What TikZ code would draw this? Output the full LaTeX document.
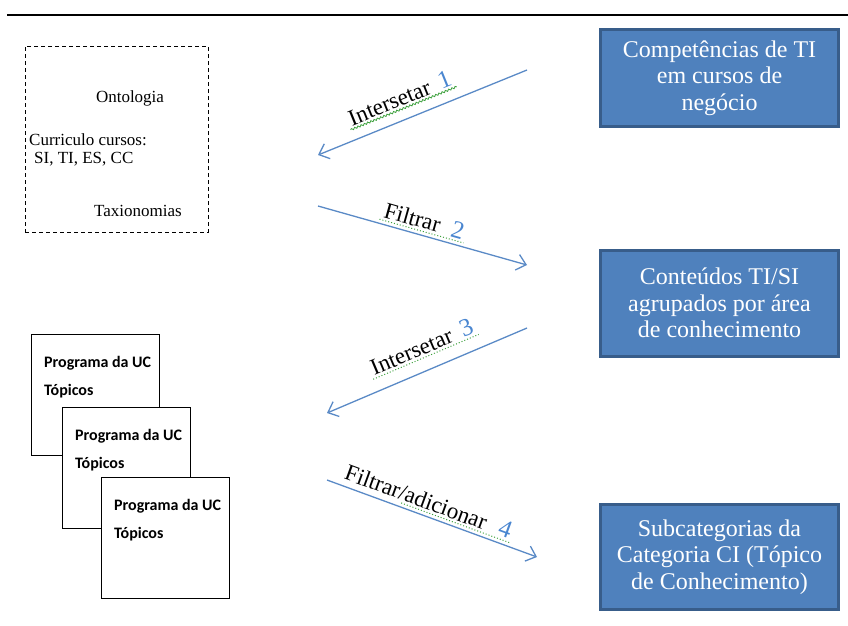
\documentclass[tikz,border=0pt]{standalone}
\usepackage{fontspec}
\setmainfont{Liberation Serif}
\newfontfamily\calfont{Carlito}
\usepackage{tikz}
\usetikzlibrary{arrows.meta,calc,decorations.pathmorphing}
\definecolor{boxfill}{HTML}{4F81BD}
\definecolor{boxline}{HTML}{385D8A}
\definecolor{arrowcol}{HTML}{5A8AC6}
\definecolor{num}{HTML}{4A86D0}
\definecolor{squig}{HTML}{3CA03C}
\newcommand{\stepno}[1]{\textcolor{num}{\fontsize{25}{26}\selectfont #1}}

\begin{document}
\begin{tikzpicture}[x=1pt,y=-1pt]
\tikzstyle{topic}=[draw=boxline,line width=3pt,fill=boxfill,text=white,align=center,minimum width=238pt,font=\fontsize{24}{26.5}\selectfont]
\tikzstyle{page}=[draw,line width=1.3pt,fill=white,minimum width=128pt,minimum height=121pt,anchor=north west,inner sep=0pt]
\tikzstyle{ptxt}=[anchor=north west,inner sep=0pt,align=left,font=\calfont\bfseries\fontsize{16}{28}\selectfont]
\tikzstyle{src}=[font=\fontsize{17}{18}\selectfont,inner sep=0pt]
\tikzstyle{flow}=[draw=arrowcol,line width=1.3pt,-{Straight Barb[length=9pt,width=16pt]}]
\tikzstyle{lab}=[sloped,inner sep=2pt,font=\fontsize{23}{24}\selectfont]
\tikzstyle{wavy}=[squig,line width=0.8pt,decorate,decoration={snake,amplitude=0.9pt,segment length=3.5pt}]
\tikzstyle{dotty}=[squig,line width=1pt,dash pattern=on 1pt off 2pt]
\useasboundingbox (0,0) rectangle (848,625);
\draw[line width=2.5pt] (7,15) -- (848,15);

% sources
\node[draw,dash pattern=on 4pt off 3pt,line width=1pt,minimum width=183pt,minimum height=186pt,inner sep=0pt] (src) at (116.5,139) {};
\node[src] (onto) at (130,98) {Ontologia};
\node[src,anchor=west] (curr) at (29,140) {Curriculo cursos:};
\node[src,anchor=west] (curs) at (34,159) {SI, TI, ES, CC};
\node[src] (taxo) at (138,211) {Taxionomias};

% pages
\foreach \i/\x/\y in {1/31/334,2/62/407,3/101/477}{
  \node[page] (uc\i) at (\x,\y) {};
  \node[ptxt] (uct\i) at ([shift={(13pt,-22pt)}]uc\i.north west) {Programa da UC\\Tópicos};
}

% topic boxes
\node[topic,minimum height=97pt] (comp) at (719.5,78) {Competências de TI\\em cursos de\\negócio};
\node[topic,minimum height=106pt] (cont) at (719.5,303) {Conteúdos TI/SI\\agrupados por área\\de conhecimento};
\node[topic,minimum height=105pt] (subc) at (719.5,557) {Subcategorias da\\Categoria CI (Tópico\\de Conhecimento)};

% steps
\coordinate (a1s) at (527,70);  \coordinate (a1e) at (318,155);
\coordinate (a2s) at (318,206); \coordinate (a2e) at (527,265);
\coordinate (a3s) at (527,328); \coordinate (a3e) at (327,413);
\coordinate (a4s) at (327,480); \coordinate (a4e) at (537,557);
\draw[flow] (a1s) -- node[lab,above=11pt,pos=0.57] (l1) {Intersetar\hspace{10pt}\stepno{1}} (a1e);
\draw[flow] (a2s) -- node[lab,above=4pt,pos=0.49] (l2) {Filtrar\hspace{12pt}\stepno{2}} (a2e);
\draw[flow] (a3s) -- node[lab,above=13pt,pos=0.48] (l3) {Intersetar\hspace{10pt}\stepno{3}} (a3e);
\draw[flow] (a4s) -- node[lab,above=4pt,pos=0.46] (l4) {Filtrar/adicionar\hspace{14pt}\stepno{4}} (a4e);
\draw[wavy] (l1.south west) -- (l1.south east);
\draw[dotty] (l2.south west) -- (l2.south east);
\draw[dotty] (l3.south west) -- (l3.south east);
\draw[dotty] ($(l4.south west)!0.36!(l4.south east)$) -- (l4.south east);
\end{tikzpicture}
\end{document}
